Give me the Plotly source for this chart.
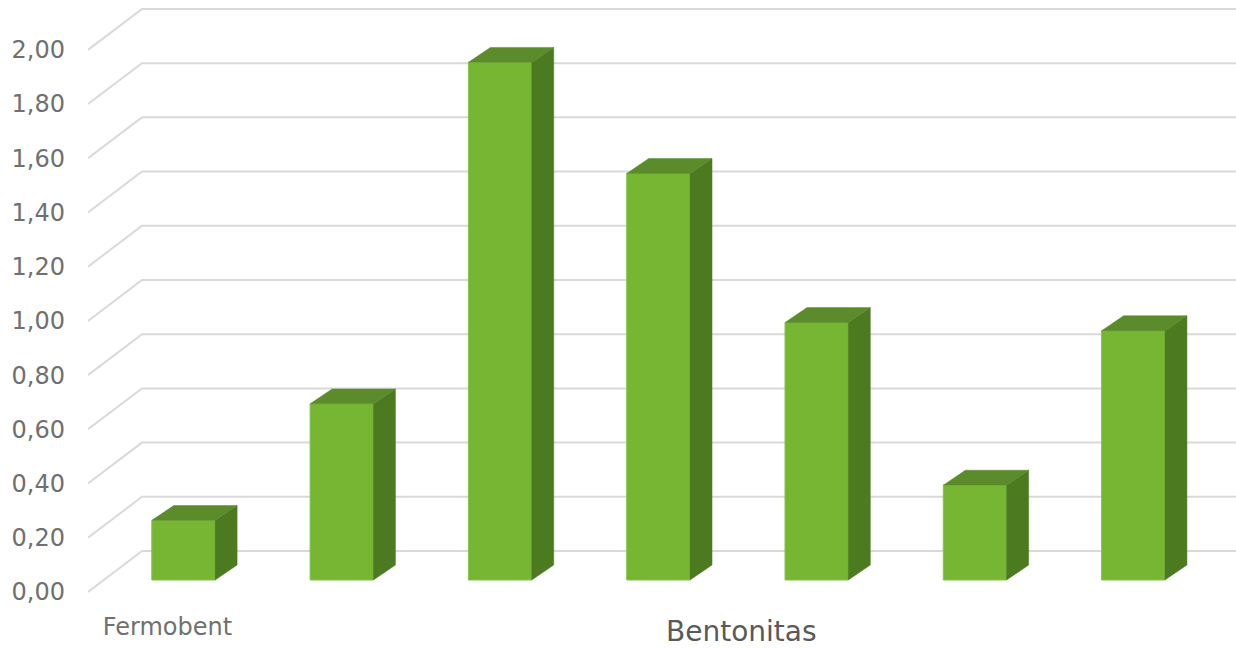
import plotly.graph_objects as go

# ---- data ----
categories = ["Fermobent", "", "", "", "", "", ""]
values = [0.22, 0.65, 1.91, 1.50, 0.95, 0.35, 0.92]
tick_values = [0.0, 0.2, 0.4, 0.6, 0.8, 1.0, 1.2, 1.4, 1.6, 1.8, 2.0]
axis_title = "Bentonitas"

# ---- style / geometry constants (oblique 3D look) ----
FRONT = "#76B632"
SIDE = "#4C7A21"
TOP = "#5B8B2A"
GRID = "#D9D9D9"
FONT = "DejaVu Sans"

bar_w = 0.40          # width of front face in category units
dx, dy = 0.139, 0.055  # bar depth offset (x units, y units)
wall_dy = 0.107        # back wall offset above bar base
floor_dy = -0.044      # front floor edge below bar base
x_left, x_wall, x_right = -0.603, -0.262, 7.0
label_shift = 0.101    # category labels sit at the floor front edge

xr = [-0.603, 6.649]
yr = [-0.0738, 2.140]

idx = list(range(len(values)))

fig = go.Figure()

# gridlines (side wall diagonal + back wall horizontal) on the base subplot
gx, gy = [], []
for v in tick_values:
    gx += [x_left, x_wall, x_right, None]
    gy += [v + floor_dy, v + wall_dy, v + wall_dy, None]
fig.add_trace(go.Scatter(x=gx, y=gy, mode="lines", line=dict(color=GRID, width=2),
                         hoverinfo="skip", showlegend=False))

# front faces (overlay subplot, above gridlines)
fig.add_trace(go.Bar(x=idx, y=values, width=bar_w, xaxis="x3", yaxis="y3",
                     marker=dict(color=FRONT, line=dict(color="#84C449", width=1)),
                     showlegend=False))

# side faces
sx, sy = [], []
for i, v in zip(idx, values):
    r = i + bar_w / 2
    sx += [r, r + dx, r + dx, r, r, None]
    sy += [0, dy, v + dy, v, 0, None]
fig.add_trace(go.Scatter(x=sx, y=sy, xaxis="x3", yaxis="y3", mode="lines", fill="toself",
                         fillcolor=SIDE, line=dict(color=SIDE, width=0.5),
                         hoverinfo="skip", showlegend=False))

# top faces
tx, ty = [], []
for i, v in zip(idx, values):
    l, r = i - bar_w / 2, i + bar_w / 2
    tx += [l, r, r + dx, l + dx, l, None]
    ty += [v, v, v + dy, v + dy, v, None]
fig.add_trace(go.Scatter(x=tx, y=ty, xaxis="x3", yaxis="y3", mode="lines", fill="toself",
                         fillcolor=TOP, line=dict(color=TOP, width=0.5),
                         hoverinfo="skip", showlegend=False))

# overlay axes for labels
fig.add_trace(go.Scatter(x=[None], y=[None], xaxis="x2", yaxis="y2", showlegend=False))

hidden = dict(showgrid=False, zeroline=False, showticklabels=False, showline=False, ticks="")

fig.update_layout(
    width=1236, height=648,
    margin=dict(l=88, r=0, t=0, b=48),
    paper_bgcolor="white", plot_bgcolor="white",
    separators=", ",
    font=dict(family=FONT, color="#6E6E6E"),
    xaxis=dict(range=xr, **hidden),
    yaxis=dict(range=yr, **hidden),
    xaxis3=dict(range=xr, overlaying="x", **hidden),
    yaxis3=dict(range=yr, overlaying="y", **hidden),
    xaxis2=dict(overlaying="x", side="bottom", range=[xr[0] + label_shift, xr[1] + label_shift],
                tickmode="array", tickvals=idx, ticktext=categories, showgrid=False, zeroline=False,
                showline=False, ticks="", tickfont=dict(size=24, color="#707070", family=FONT),
                ticklabelstandoff=10),
    yaxis2=dict(overlaying="y", side="left", range=[yr[0] - floor_dy, yr[1] - floor_dy],
                tickmode="array", tickvals=tick_values, tickformat=".2f", showgrid=False,
                zeroline=False, showline=False, ticks="", ticklabelstandoff=22,
                tickfont=dict(size=24, color="#707070", family=FONT)),
    barmode="overlay",
)

plot_w, plot_h = 1236 - 88, 648 - 48
fig.add_annotation(text=axis_title, x=(741 - 88) / plot_w, y=(600 - 631) / plot_h,
                   xref="paper", yref="paper", xanchor="center", yanchor="middle",
                   showarrow=False, font=dict(size=28, color="#595959", family=FONT))

fig.write_html("out.html")
